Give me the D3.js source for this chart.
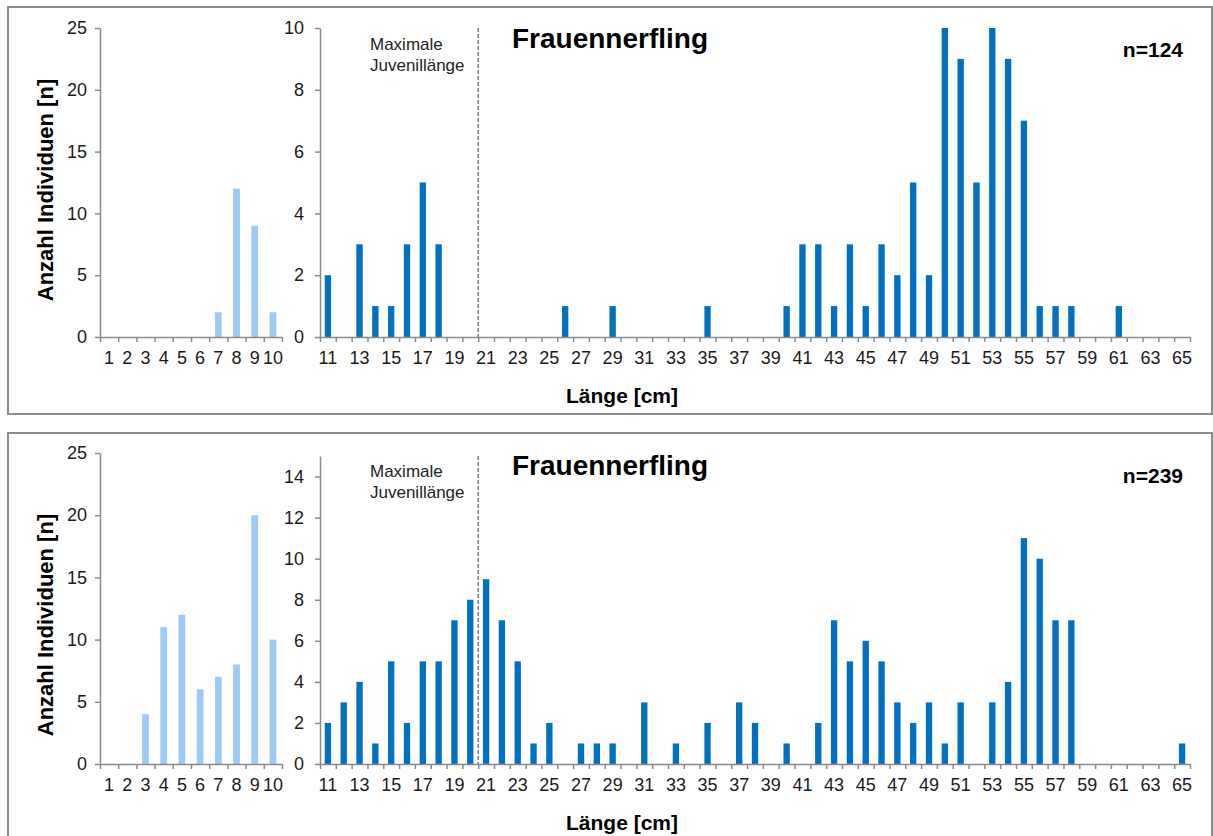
<!DOCTYPE html>
<html>
<head>
<meta charset="utf-8">
<script src="https://cdn.jsdelivr.net/npm/d3@7"></script>
<style>
  html, body { margin: 0; padding: 0; background: #fff; }
  svg { display: block; font-family: "Liberation Sans", Arial, sans-serif; }
</style>
</head>
<body>
<svg id="chart" width="1213" height="836"></svg>
<script>
// ---------- DATA ----------
const catsJuv = [1, 2, 3, 4, 5, 6, 7, 8, 9, 10];
const catsLen = [11, 12, 13, 14, 15, 16, 17, 18, 19, 20,
                 21, 22, 23, 24, 25, 26, 27, 28, 29, 30,
                 31, 32, 33, 34, 35, 36, 37, 38, 39, 40,
                 41, 42, 43, 44, 45, 46, 47, 48, 49, 50,
                 51, 52, 53, 54, 55, 56, 57, 58, 59, 60,
                 61, 62, 63, 64, 65];
const xLabelsLen = [11, 13, 15, 17, 19, 21, 23, 25, 27, 29, 31, 33, 35, 37, 39,
                    41, 43, 45, 47, 49, 51, 53, 55, 57, 59, 61, 63, 65];

const juv1 = [0, 0, 0, 0, 0, 0, 2, 12, 9, 2];
const len1 = [2, 0, 3, 1, 1, 3, 5, 3, 0, 0,
              0, 0, 0, 0, 0, 1, 0, 0, 1, 0,
              0, 0, 0, 0, 1, 0, 0, 0, 0, 1,
              3, 3, 1, 3, 1, 3, 2, 5, 2, 10,
              9, 5, 10, 9, 7, 1, 1, 1, 0, 0,
              1, 0, 0, 0, 0];

const juv2 = [0, 0, 4, 11, 12, 6, 7, 8, 20, 10];
const len2 = [2, 3, 4, 1, 5, 2, 5, 5, 7, 8,
              9, 7, 5, 1, 2, 0, 1, 1, 1, 0,
              3, 0, 1, 0, 2, 0, 3, 2, 0, 1,
              0, 2, 7, 5, 6, 5, 3, 2, 3, 1,
              3, 0, 3, 4, 11, 10, 7, 7, 0, 0,
              0, 0, 0, 0, 1];

const yTicksJuv = [0, 5, 10, 15, 20, 25];
const yTicksLen1 = [0, 2, 4, 6, 8, 10];
const yTicksLen2 = [0, 2, 4, 6, 8, 10, 12, 14];
const yMaxJuv = 25;
const yMaxLen1 = 10;
const yMaxLen2 = 15;
const juvLimit = 20.5;   // Maximale Juvenillänge (between 20 and 21 cm)

const speciesTitle = "Frauennerfling";
const nLabel1 = "n=124";
const nLabel2 = "n=239";
const yTitle = "Anzahl Individuen [n]";
const xTitle = "Länge [cm]";
const juvNote = ["Maximale", "Juvenillänge"];

// ---------- STYLE ----------
const colJuv = "#9DCBF5";
const colLen = "#0070C0";
const axisCol = "#8a8a8a";

const svg = d3.select("#chart");

function drawPanel(cfg) {
  const g = svg.append("g");

  // frame
  g.append("rect")
    .attr("x", 8).attr("y", cfg.frameTop)
    .attr("width", 1204).attr("height", cfg.frameH)
    .attr("fill", "#fff")
    .attr("stroke", "#8c8c8c").attr("stroke-width", 2);

  // ----- left (juvenile) chart -----
  const xJ = d3.scaleBand().domain(catsJuv).range([100, 282]).paddingInner(0.63).paddingOuter(0.315);
  const xJlin = d3.scaleLinear().domain([0.5, 10.5]).range([100, 282]);
  const yJ = d3.scaleLinear().domain([0, yMaxJuv]).range([cfg.y0, cfg.yTopJ]);

  g.append("g").selectAll("rect").data(cfg.juv).join("rect")
    .attr("x", (d, i) => xJ(catsJuv[i]))
    .attr("width", xJ.bandwidth())
    .attr("y", d => yJ(d))
    .attr("height", d => yJ(0) - yJ(d))
    .attr("fill", colJuv);

  // y axis
  const yaJ = g.append("g").attr("transform", "translate(100,0)")
    .call(d3.axisLeft(yJ).tickValues(yTicksJuv).tickSize(5).tickSizeOuter(0).tickPadding(8));
  styleAxis(yaJ);
  // x ticks (boundaries)
  const xtJ = g.append("g").attr("transform", `translate(0,${cfg.y0})`)
    .call(d3.axisBottom(xJlin).tickValues(d3.range(0.5, 11, 1)).tickSize(5).tickSizeOuter(0).tickFormat(""));
  styleAxis(xtJ);
  const xlJ = g.append("g").attr("transform", `translate(0,${cfg.y0})`)
    .call(d3.axisBottom(xJ).tickSize(0).tickPadding(14));
  xlJ.select(".domain").remove();
  styleAxis(xlJ);

  // ----- right (length) chart -----
  const xL = d3.scaleBand().domain(catsLen).range([320, 1190]).paddingInner(0.6).paddingOuter(0.3);
  const xLlin = d3.scaleLinear().domain([10.5, 65.5]).range([320, 1190]);
  const yL = d3.scaleLinear().domain([0, cfg.yMaxL]).range([cfg.y0, cfg.yTopL]);

  g.append("g").selectAll("rect").data(cfg.len).join("rect")
    .attr("x", (d, i) => xL(catsLen[i]))
    .attr("width", xL.bandwidth())
    .attr("y", d => yL(d))
    .attr("height", d => yL(0) - yL(d))
    .attr("fill", colLen);

  const yaL = g.append("g").attr("transform", "translate(320,0)")
    .call(d3.axisLeft(yL).tickValues(cfg.yTicksL).tickSize(5).tickSizeOuter(0).tickPadding(11));
  styleAxis(yaL);
  const xtL = g.append("g").attr("transform", `translate(0,${cfg.y0})`)
    .call(d3.axisBottom(xLlin).tickValues(d3.range(10.5, 66, 1)).tickSize(5).tickSizeOuter(0).tickFormat(""));
  styleAxis(xtL);
  const xlL = g.append("g").attr("transform", `translate(0,${cfg.y0})`)
    .call(d3.axisBottom(xL).tickValues(xLabelsLen).tickSize(0).tickPadding(14));
  xlL.select(".domain").remove();
  styleAxis(xlL);

  // dashed juvenile limit line
  g.append("line")
    .attr("x1", xLlin(juvLimit)).attr("x2", xLlin(juvLimit))
    .attr("y1", cfg.yTopL).attr("y2", cfg.y0)
    .attr("stroke", "#6f6f6f").attr("stroke-width", 1.4)
    .attr("stroke-dasharray", "4,2");

  // note text
  g.append("text").attr("x", 370).attr("y", cfg.noteY)
    .attr("font-size", 17).attr("fill", "#222").text(juvNote[0]);
  g.append("text").attr("x", 370).attr("y", cfg.noteY + 21)
    .attr("font-size", 17).attr("fill", "#222").text(juvNote[1]);

  // title
  g.append("text").attr("x", 512).attr("y", cfg.titleY)
    .attr("font-size", 28).attr("font-weight", "bold").attr("fill", "#000")
    .text(speciesTitle);

  // n label
  g.append("text").attr("x", 1183).attr("y", cfg.nY)
    .attr("text-anchor", "end")
    .attr("font-size", 21).attr("font-weight", "bold").attr("fill", "#000")
    .text(cfg.nLabel);

  // x title
  g.append("text").attr("x", 622).attr("y", cfg.xTitleY)
    .attr("text-anchor", "middle")
    .attr("font-size", 21).attr("font-weight", "bold").attr("fill", "#000")
    .text(xTitle);

  // y title
  g.append("text")
    .attr("transform", `translate(45,${cfg.yTitleY}) rotate(-90)`)
    .attr("text-anchor", "middle").attr("dy", "0.35em")
    .attr("font-size", 22).attr("font-weight", "bold").attr("fill", "#000")
    .text(yTitle);
}

function styleAxis(sel) {
  sel.select(".domain").attr("stroke", axisCol).attr("stroke-width", 1.5);
  sel.selectAll(".tick line").attr("stroke", axisCol).attr("stroke-width", 1.5);
  sel.selectAll(".tick text")
    .attr("fill", "#1a1a1a")
    .style("font-size", "18px")
    .style("font-family", "'Liberation Sans', Arial, sans-serif");
}

drawPanel({
  frameTop: 7, frameH: 407,
  y0: 337, yTopJ: 28, yTopL: 28,
  juv: juv1, len: len1,
  yMaxL: yMaxLen1, yTicksL: yTicksLen1,
  noteY: 50, titleY: 48, nY: 57, xTitleY: 403, yTitleY: 190,
  nLabel: nLabel1
});

drawPanel({
  frameTop: 433, frameH: 412,
  y0: 764, yTopJ: 453, yTopL: 456,
  juv: juv2, len: len2,
  yMaxL: yMaxLen2, yTicksL: yTicksLen2,
  noteY: 477, titleY: 475, nY: 483, xTitleY: 830, yTitleY: 625,
  nLabel: nLabel2
});
</script>
</body>
</html>
